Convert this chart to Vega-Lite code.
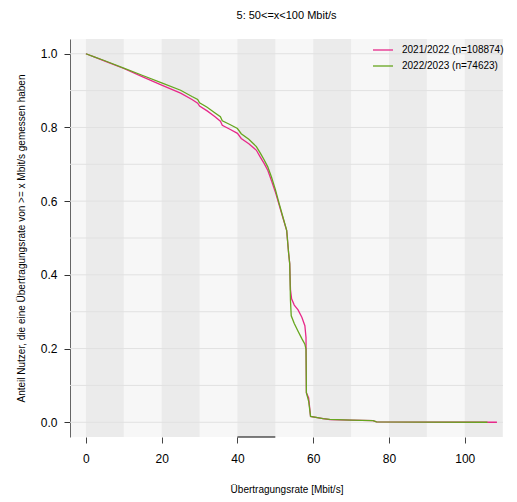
{
  "$schema": "https://vega.github.io/schema/vega-lite/v6.json",
  "width": 433,
  "height": 398,
  "autosize": {"type": "none"},
  "padding": {"left": 70, "top": 39, "right": 14, "bottom": 65},
  "background": "white",
  "config": {
    "font": "Liberation Sans",
    "view": {"stroke": null, "fill": "#F7F7F7"},
    "axis": {"labelColor": "#000000", "titleColor": "#000000", "titleFontWeight": "normal"},
    "axisX": {
      "domain": false, "grid": false, "tickSize": 6, "tickColor": "#444444",
      "labelFontSize": 12, "labelPadding": 10, "titleFontSize": 10, "titlePadding": 20
    },
    "axisY": {
      "domain": true, "domainColor": "#666666", "grid": false, "tickSize": 6, "tickColor": "#333333",
      "labelFontSize": 12, "labelPadding": 7, "titleFontSize": 10, "titlePadding": 14
    }
  },
  "title": {"text": "5: 50<=x<100 Mbit/s", "fontSize": 11, "fontWeight": "normal", "color": "#000000", "offset": 18, "anchor": "middle"},
  "datasets": {
    "bands": [
      {"b0": 0, "b1": 10}, {"b0": 20, "b1": 30}, {"b0": 40, "b1": 50},
      {"b0": 60, "b1": 70}, {"b0": 80, "b1": 90}, {"b0": 100, "b1": 110}
    ],
    "grid": [
      {"g": 0.0}, {"g": 0.1}, {"g": 0.2}, {"g": 0.3}, {"g": 0.4}, {"g": 0.5},
      {"g": 0.6}, {"g": 0.7}, {"g": 0.8}, {"g": 0.9}, {"g": 1.0}
    ],
    "seg": [{"s0": 40, "s1": 50, "sy": -0.04}],
    "curves": [
      {"series": "2021/2022 (n=108874)", "rate": 0, "share": 1.0},
      {"series": "2021/2022 (n=108874)", "rate": 2, "share": 0.992},
      {"series": "2021/2022 (n=108874)", "rate": 5, "share": 0.980},
      {"series": "2021/2022 (n=108874)", "rate": 10, "share": 0.960},
      {"series": "2021/2022 (n=108874)", "rate": 15, "share": 0.937},
      {"series": "2021/2022 (n=108874)", "rate": 20, "share": 0.915},
      {"series": "2021/2022 (n=108874)", "rate": 25, "share": 0.893},
      {"series": "2021/2022 (n=108874)", "rate": 28, "share": 0.876},
      {"series": "2021/2022 (n=108874)", "rate": 29.5, "share": 0.866},
      {"series": "2021/2022 (n=108874)", "rate": 30, "share": 0.858},
      {"series": "2021/2022 (n=108874)", "rate": 32, "share": 0.845},
      {"series": "2021/2022 (n=108874)", "rate": 34, "share": 0.830},
      {"series": "2021/2022 (n=108874)", "rate": 35.5, "share": 0.817},
      {"series": "2021/2022 (n=108874)", "rate": 36, "share": 0.806},
      {"series": "2021/2022 (n=108874)", "rate": 38, "share": 0.795},
      {"series": "2021/2022 (n=108874)", "rate": 40, "share": 0.784},
      {"series": "2021/2022 (n=108874)", "rate": 41, "share": 0.770},
      {"series": "2021/2022 (n=108874)", "rate": 43, "share": 0.756},
      {"series": "2021/2022 (n=108874)", "rate": 45, "share": 0.738},
      {"series": "2021/2022 (n=108874)", "rate": 46, "share": 0.720},
      {"series": "2021/2022 (n=108874)", "rate": 47, "share": 0.703},
      {"series": "2021/2022 (n=108874)", "rate": 48, "share": 0.684},
      {"series": "2021/2022 (n=108874)", "rate": 49, "share": 0.655},
      {"series": "2021/2022 (n=108874)", "rate": 50, "share": 0.625},
      {"series": "2021/2022 (n=108874)", "rate": 51, "share": 0.590},
      {"series": "2021/2022 (n=108874)", "rate": 52, "share": 0.555},
      {"series": "2021/2022 (n=108874)", "rate": 53, "share": 0.520},
      {"series": "2021/2022 (n=108874)", "rate": 53.5, "share": 0.46},
      {"series": "2021/2022 (n=108874)", "rate": 53.8, "share": 0.43},
      {"series": "2021/2022 (n=108874)", "rate": 54.0, "share": 0.36},
      {"series": "2021/2022 (n=108874)", "rate": 54.3, "share": 0.335},
      {"series": "2021/2022 (n=108874)", "rate": 55, "share": 0.318},
      {"series": "2021/2022 (n=108874)", "rate": 56, "share": 0.305},
      {"series": "2021/2022 (n=108874)", "rate": 57, "share": 0.285},
      {"series": "2021/2022 (n=108874)", "rate": 57.8, "share": 0.262},
      {"series": "2021/2022 (n=108874)", "rate": 58.1, "share": 0.230},
      {"series": "2021/2022 (n=108874)", "rate": 58.2, "share": 0.08},
      {"series": "2021/2022 (n=108874)", "rate": 58.8, "share": 0.066},
      {"series": "2021/2022 (n=108874)", "rate": 59.3, "share": 0.016},
      {"series": "2021/2022 (n=108874)", "rate": 62.6, "share": 0.010},
      {"series": "2021/2022 (n=108874)", "rate": 64.4, "share": 0.007},
      {"series": "2021/2022 (n=108874)", "rate": 70, "share": 0.006},
      {"series": "2021/2022 (n=108874)", "rate": 75.8, "share": 0.0046},
      {"series": "2021/2022 (n=108874)", "rate": 76.7, "share": 0.001},
      {"series": "2021/2022 (n=108874)", "rate": 90, "share": 0.0005},
      {"series": "2021/2022 (n=108874)", "rate": 108.5, "share": 0.0},
      {"series": "2022/2023 (n=74623)", "rate": 0, "share": 1.0},
      {"series": "2022/2023 (n=74623)", "rate": 2, "share": 0.992},
      {"series": "2022/2023 (n=74623)", "rate": 5, "share": 0.981},
      {"series": "2022/2023 (n=74623)", "rate": 10, "share": 0.961},
      {"series": "2022/2023 (n=74623)", "rate": 15, "share": 0.941},
      {"series": "2022/2023 (n=74623)", "rate": 20, "share": 0.921},
      {"series": "2022/2023 (n=74623)", "rate": 25, "share": 0.901},
      {"series": "2022/2023 (n=74623)", "rate": 28, "share": 0.884},
      {"series": "2022/2023 (n=74623)", "rate": 29.5, "share": 0.876},
      {"series": "2022/2023 (n=74623)", "rate": 30, "share": 0.867},
      {"series": "2022/2023 (n=74623)", "rate": 32, "share": 0.855},
      {"series": "2022/2023 (n=74623)", "rate": 34, "share": 0.840},
      {"series": "2022/2023 (n=74623)", "rate": 35.5, "share": 0.829},
      {"series": "2022/2023 (n=74623)", "rate": 36, "share": 0.818},
      {"series": "2022/2023 (n=74623)", "rate": 38, "share": 0.808},
      {"series": "2022/2023 (n=74623)", "rate": 40, "share": 0.797},
      {"series": "2022/2023 (n=74623)", "rate": 41, "share": 0.783},
      {"series": "2022/2023 (n=74623)", "rate": 43, "share": 0.768},
      {"series": "2022/2023 (n=74623)", "rate": 45, "share": 0.748},
      {"series": "2022/2023 (n=74623)", "rate": 46, "share": 0.731},
      {"series": "2022/2023 (n=74623)", "rate": 47, "share": 0.713},
      {"series": "2022/2023 (n=74623)", "rate": 48, "share": 0.693},
      {"series": "2022/2023 (n=74623)", "rate": 49, "share": 0.665},
      {"series": "2022/2023 (n=74623)", "rate": 50, "share": 0.632},
      {"series": "2022/2023 (n=74623)", "rate": 51, "share": 0.594},
      {"series": "2022/2023 (n=74623)", "rate": 52, "share": 0.557},
      {"series": "2022/2023 (n=74623)", "rate": 53, "share": 0.521},
      {"series": "2022/2023 (n=74623)", "rate": 53.5, "share": 0.46},
      {"series": "2022/2023 (n=74623)", "rate": 53.8, "share": 0.43},
      {"series": "2022/2023 (n=74623)", "rate": 54.0, "share": 0.33},
      {"series": "2022/2023 (n=74623)", "rate": 54.2, "share": 0.289},
      {"series": "2022/2023 (n=74623)", "rate": 55, "share": 0.268},
      {"series": "2022/2023 (n=74623)", "rate": 56, "share": 0.247},
      {"series": "2022/2023 (n=74623)", "rate": 57, "share": 0.227},
      {"series": "2022/2023 (n=74623)", "rate": 57.8, "share": 0.212},
      {"series": "2022/2023 (n=74623)", "rate": 58.1, "share": 0.198},
      {"series": "2022/2023 (n=74623)", "rate": 58.2, "share": 0.08},
      {"series": "2022/2023 (n=74623)", "rate": 58.8, "share": 0.057},
      {"series": "2022/2023 (n=74623)", "rate": 59.3, "share": 0.016},
      {"series": "2022/2023 (n=74623)", "rate": 62.6, "share": 0.010},
      {"series": "2022/2023 (n=74623)", "rate": 64.4, "share": 0.008},
      {"series": "2022/2023 (n=74623)", "rate": 70, "share": 0.006},
      {"series": "2022/2023 (n=74623)", "rate": 75.8, "share": 0.0046},
      {"series": "2022/2023 (n=74623)", "rate": 76.7, "share": 0.001},
      {"series": "2022/2023 (n=74623)", "rate": 90, "share": 0.0005},
      {"series": "2022/2023 (n=74623)", "rate": 106, "share": 0.0}
    ]
  },
  "layer": [
    {
      "data": {"name": "bands"},
      "mark": {"type": "rect", "color": "#EBEBEB"},
      "encoding": {
        "x": {"field": "b0", "type": "quantitative", "scale": {"domain": [-4.2, 110.1], "nice": false, "zero": false}, "title": "Übertragungsrate [Mbit/s]", "axis": {"values": [0, 20, 40, 60, 80, 100]}},
        "x2": {"field": "b1"}
      }
    },
    {
      "data": {"name": "grid"},
      "mark": {"type": "rule", "color": "#E1E1E1", "strokeWidth": 1},
      "encoding": {
        "y": {"field": "g", "type": "quantitative", "scale": {"domain": [-0.04, 1.04], "nice": false, "zero": false}, "title": "Anteil Nutzer, die eine Übertragungsrate von >= x Mbit/s gemessen haben", "axis": {"values": [0, 0.2, 0.4, 0.6, 0.8, 1.0], "format": ".1f"}}
      }
    },
    {
      "data": {"name": "curves"},
      "mark": {"type": "line", "strokeWidth": 1.3, "interpolate": "linear"},
      "encoding": {
        "x": {"field": "rate", "type": "quantitative", "scale": {"domain": [-4.2, 110.1], "nice": false, "zero": false}, "title": "Übertragungsrate [Mbit/s]", "axis": {"values": [0, 20, 40, 60, 80, 100]}},
        "y": {"field": "share", "type": "quantitative", "scale": {"domain": [-0.04, 1.04], "nice": false, "zero": false}, "title": "Anteil Nutzer, die eine Übertragungsrate von >= x Mbit/s gemessen haben", "axis": {"values": [0, 0.2, 0.4, 0.6, 0.8, 1.0], "format": ".1f"}},
        "color": {
          "field": "series", "type": "nominal",
          "scale": {"domain": ["2021/2022 (n=108874)", "2022/2023 (n=74623)"], "range": ["#E7298A", "#66A61E"]},
          "legend": {
            "title": null, "orient": "none", "legendX": 302, "legendY": 0,
            "symbolType": "stroke", "symbolSize": 400, "symbolStrokeWidth": 1.3,
            "labelFontSize": 10, "labelOffset": 8, "rowPadding": -6, "labelColor": "#000000"
          }
        }
      }
    },
    {
      "data": {"name": "seg"},
      "mark": {"type": "rule", "color": "#000000", "strokeWidth": 1},
      "encoding": {
        "x": {"field": "s0", "type": "quantitative", "scale": {"domain": [-4.2, 110.1], "nice": false, "zero": false}, "title": "Übertragungsrate [Mbit/s]", "axis": {"values": [0, 20, 40, 60, 80, 100]}},
        "x2": {"field": "s1"},
        "y": {"field": "sy", "type": "quantitative", "scale": {"domain": [-0.04, 1.04], "nice": false, "zero": false}, "title": "Anteil Nutzer, die eine Übertragungsrate von >= x Mbit/s gemessen haben", "axis": {"values": [0, 0.2, 0.4, 0.6, 0.8, 1.0], "format": ".1f"}}
      }
    }
  ]
}
